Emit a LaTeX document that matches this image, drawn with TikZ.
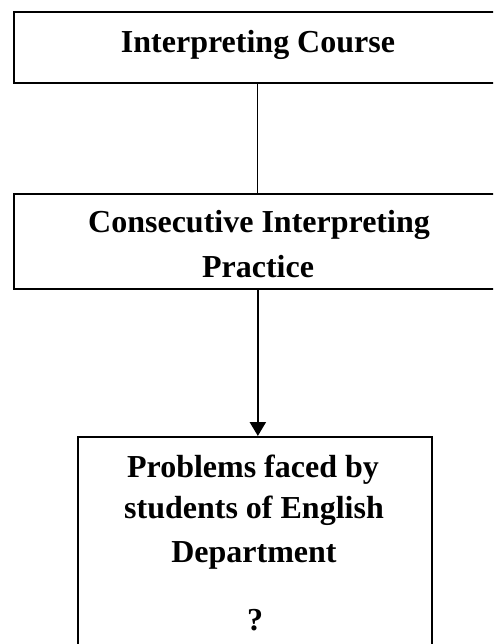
\documentclass[tikz,border=0pt]{standalone}
\usepackage{fontspec}
\setmainfont{Liberation Serif}
\usetikzlibrary{arrows.meta}
\begin{document}
\begin{tikzpicture}[x=1pt,y=-1pt,
  box/.style={draw=black,line width=1.7pt,inner sep=0pt,anchor=north west},
  txt/.style={inner sep=0pt,anchor=base,font=\fontsize{32}{44}\selectfont\bfseries},
  thinline/.style={draw=black,line width=1.1pt},
  arrowline/.style={draw=black,line width=2.3pt,-{Triangle[width=16pt,length=14pt]}}]
\useasboundingbox (0,0) rectangle (493,644);
\clip (0,0) rectangle (493,644);
% boxes
\node[box,minimum width=488pt,minimum height=71pt] (b1) at (13,11) {};
\node[box,minimum width=488pt,minimum height=95pt] (b2) at (13,193) {};
\node[box,minimum width=354pt,minimum height=240pt] (b3) at (77,436) {};
% texts
\node[txt] (t1) at (258,53) {Interpreting Course};
\node[txt] (t2a) at (259,233) {Consecutive Interpreting};
\node[txt] (t2b) at (258,277) {Practice};
\node[txt] (t3a) at (253,477) {Problems faced by};
\node[txt] (t3b) at (254,518) {students of English};
\node[txt] (t3c) at (254,562) {Department};
\node[txt] (t3d) at (255,630) {?};
% connectors
\draw[thinline] (b1.south) -- (b2.north);
\draw[arrowline] (b2.south) -- (b2.south |- b3.north);
\end{tikzpicture}
\end{document}
